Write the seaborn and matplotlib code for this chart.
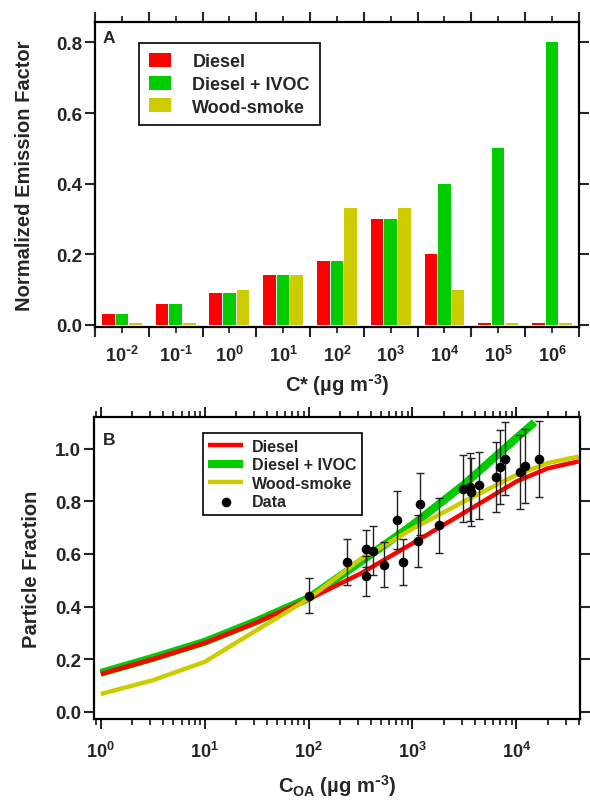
import numpy as np
import pandas as pd
import matplotlib
matplotlib.use("Agg")
import matplotlib.pyplot as plt
import seaborn as sns
from matplotlib.ticker import FixedLocator, LogLocator, NullFormatter

sns.set_style("ticks")
plt.rcParams["font.family"] = ["Liberation Sans", "DejaVu Sans"]
plt.rcParams["font.weight"] = "bold"
plt.rcParams["axes.labelweight"] = "bold"
plt.rcParams["mathtext.default"] = "regular"

# ---- panel A data: normalized emission factors per volatility bin ----
cstar_labels = ["$10^{\\text{-}2}$", "$10^{\\text{-}1}$", "$10^{0}$", "$10^{1}$", "$10^{2}$",
                "$10^{3}$", "$10^{4}$", "$10^{5}$", "$10^{6}$"]
ef_diesel = [0.03, 0.06, 0.09, 0.14, 0.18, 0.30, 0.20, 0.004, 0.004]
ef_diesel_ivoc = [0.03, 0.06, 0.09, 0.14, 0.18, 0.30, 0.40, 0.50, 0.80]
ef_wood = [0.004, 0.004, 0.10, 0.14, 0.33, 0.33, 0.10, 0.004, 0.004]

# ---- panel B data: partitioning curves and measurements ----
coa_curve = [1, 3.16, 10, 31.6, 100, 316, 1000, 3160, 10000, 20000, 40000]
pf_diesel = [0.144, 0.20, 0.262, 0.34, 0.428, 0.525, 0.64, 0.757, 0.875, 0.925, 0.952]
pf_wood = [0.068, 0.12, 0.19, 0.31, 0.43, 0.58, 0.695, 0.80, 0.90, 0.945, 0.97]
coa_ivoc = [1, 3.16, 10, 31.6, 100, 316, 1000, 3160, 10000, 15000]
pf_ivoc = [0.148, 0.205, 0.266, 0.345, 0.432, 0.57, 0.71, 0.865, 1.04, 1.10]

coa_data = [100, 233, 357, 357, 420, 537, 705, 817, 1140, 1184, 1800,
            3055, 3600, 3680, 4330, 6400, 7000, 7700, 10900, 12200, 16400]
pf_data = [0.442, 0.569, 0.62, 0.518, 0.613, 0.559, 0.73, 0.569, 0.649, 0.79, 0.708,
           0.848, 0.854, 0.835, 0.86, 0.892, 0.93, 0.962, 0.911, 0.934, 0.962]
pf_err = [0.067, 0.086, 0.07, 0.076, 0.092, 0.086, 0.11, 0.086, 0.098, 0.118, 0.106,
          0.127, 0.128, 0.128, 0.128, 0.134, 0.139, 0.14, 0.14, 0.139, 0.144]

RED, GREEN, YELLOW = "#FF0000", "#00CC00", "#CCCC00"
series = ["Diesel", "Diesel + IVOC", "Wood-smoke"]

fig = plt.figure(figsize=(5.9, 8.03), dpi=100)

# ================= Panel A =================
ax1 = fig.add_axes([0.161, 0.5915, 0.820, 0.380])
df = pd.DataFrame({
    "bin": cstar_labels * 3,
    "ef": ef_diesel + ef_diesel_ivoc + ef_wood,
    "source": sum([[s] * len(cstar_labels) for s in series], []),
})
sns.barplot(data=df, x="bin", y="ef", hue="source", hue_order=series,
            palette=[RED, GREEN, YELLOW], width=0.76, gap=0.08,
            linewidth=0, saturation=1, ax=ax1)
ax1.set_xlim(-0.5, 8.5)
ax1.set_ylim(-0.006, 0.858)
ax1.set_yticks([0, 0.2, 0.4, 0.6, 0.8])
ax1.set_yticklabels(["0.0", "0.2", "0.4", "0.6", "0.8"])
ax1.xaxis.set_minor_locator(FixedLocator(np.arange(-0.5, 9, 1.0)))
ax1.tick_params(axis="x", which="major", length=4, width=1.3, pad=9,
                top=True, direction="out", labelsize=13)
ax1.tick_params(axis="x", which="minor", length=7.5, width=1.5,
                top=True, bottom=True, direction="out")
ax1.tick_params(axis="y", which="major", length=7, width=1.5, pad=2,
                right=True, direction="out", labelsize=13.5)
ax1.set_xlabel("C* (µg m$^{\\text{-}3}$)", fontsize=14.5, labelpad=4)
ax1.set_ylabel("Normalized Emission Factor", fontsize=14.5, labelpad=16)
for sp in ax1.spines.values():
    sp.set_linewidth(1.6)
    sp.set_color("black")
ax1.text(0.016, 0.975, "A", transform=ax1.transAxes, ha="left", va="top",
         fontsize=12.5, fontweight="bold")
h, l = ax1.get_legend_handles_labels()
ax1.legend(h, l, loc="upper left", bbox_to_anchor=(0.091, 0.93), borderaxespad=0,
           fontsize=13, handlelength=1.2, handleheight=0.8, handletextpad=1.2,
           labelspacing=0.3, borderpad=0.55, fancybox=False, framealpha=1,
           edgecolor="black").get_frame().set_linewidth(1.2)

# ================= Panel B =================
ax2 = fig.add_axes([0.159, 0.1034, 0.824, 0.376])
ax2.set_xscale("log")
sns.lineplot(x=coa_ivoc, y=pf_ivoc, color=GREEN, lw=5.8, label="Diesel + IVOC",
             ax=ax2, solid_capstyle="butt")
sns.lineplot(x=coa_curve, y=pf_diesel, color=RED, lw=3.2, label="Diesel",
             ax=ax2, solid_capstyle="butt")
sns.lineplot(x=coa_curve, y=pf_wood, color=YELLOW, lw=3.2, label="Wood-smoke",
             ax=ax2, solid_capstyle="butt")
ax2.errorbar(coa_data, pf_data, yerr=pf_err, fmt="none", ecolor="#222222",
             elinewidth=1.0, capsize=2.6, capthick=1.0, zorder=4)
sns.scatterplot(x=coa_data, y=pf_data, color="black", s=48, linewidth=0,
                label="Data", ax=ax2, zorder=5)

ax2.set_xlim(0.857, 41000)
ax2.set_ylim(-0.027, 1.12)
ax2.set_xticks([1, 10, 100, 1000, 10000])
ax2.set_xticklabels(["$10^{0}$", "$10^{1}$", "$10^{2}$", "$10^{3}$", "$10^{4}$"])
ax2.xaxis.set_minor_locator(LogLocator(base=10, subs=np.arange(2, 10), numticks=20))
ax2.xaxis.set_minor_formatter(NullFormatter())
ax2.set_yticks([0, 0.2, 0.4, 0.6, 0.8, 1.0])
ax2.set_yticklabels(["0.0", "0.2", "0.4", "0.6", "0.8", "1.0"])
ax2.tick_params(axis="x", which="major", length=7.5, width=1.5, pad=8,
                top=True, direction="out", labelsize=13)
ax2.tick_params(axis="x", which="minor", length=4, width=1.3,
                top=True, bottom=True, direction="out")
ax2.tick_params(axis="y", which="major", length=7, width=1.5, pad=2,
                right=True, direction="out", labelsize=13.5)
ax2.set_xlabel("C$_{OA}$ (µg m$^{\\text{-}3}$)", fontsize=14.5, labelpad=8)
ax2.set_ylabel("Particle Fraction", fontsize=14.5, labelpad=10)
for sp in ax2.spines.values():
    sp.set_linewidth(1.6)
    sp.set_color("black")
ax2.text(0.018, 0.95, "B", transform=ax2.transAxes, ha="left", va="top",
         fontsize=12.5, fontweight="bold")

h, l = ax2.get_legend_handles_labels()
order = [l.index(n) for n in ["Diesel", "Diesel + IVOC", "Wood-smoke", "Data"]]
ax2.legend([h[i] for i in order], [l[i] for i in order], loc="upper left",
           bbox_to_anchor=(0.224, 0.946), borderaxespad=0, fontsize=11.5,
           handlelength=2.2, handletextpad=0.55, labelspacing=0.22,
           borderpad=0.35, fancybox=False, framealpha=1,
           edgecolor="black").get_frame().set_linewidth(1.2)

fig.savefig("out.png", dpi=100)
